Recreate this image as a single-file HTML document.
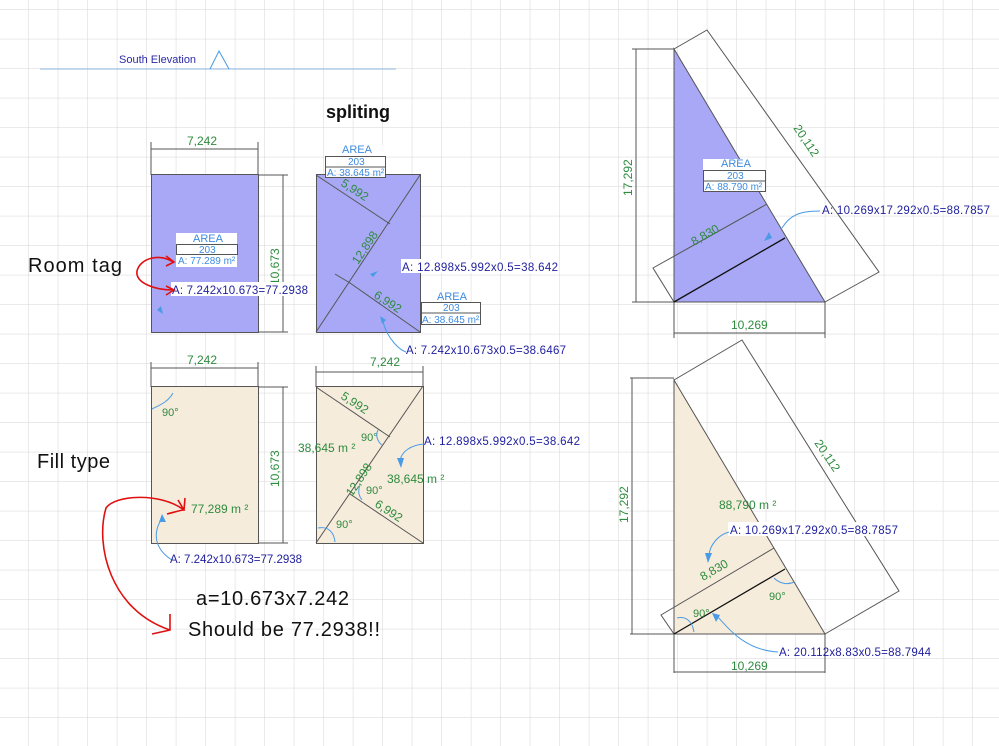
<!DOCTYPE html>
<html><head><meta charset="utf-8"><style>
html,body{margin:0;padding:0;background:#fff;}
svg{display:block;}
text{font-family:"Liberation Sans",sans-serif;}
.g{fill:#2e8b3e;font-size:12px;}
.n{fill:#1e1e9e;font-size:11.5px;}
.t{fill:#3d8be0;font-size:10px;}
.d{stroke:#555;stroke-width:1;fill:none;}
.a{stroke:#4a9be6;stroke-width:1;fill:none;}
.r{stroke:#e01010;stroke-width:1.6;fill:none;}
.k{fill:#111;font-size:20px;}
</style></head><body>
<svg width="999" height="746" viewBox="0 0 999 746" xmlns="http://www.w3.org/2000/svg">
<defs>
<pattern id="grid" x="-1.2" y="9.3" width="29.5" height="29.5" patternUnits="userSpaceOnUse">
<path d="M0 0 H29.5 M0 0 V29.5" stroke="#d6d6d6" stroke-width="1" fill="none"/>
</pattern>
</defs>
<rect width="999" height="746" fill="#fff"/>
<rect width="999" height="746" fill="url(#grid)"/>

<!-- South Elevation -->
<line x1="40" y1="69" x2="396" y2="69" stroke="#8fb8e0" stroke-width="1"/>
<text x="119" y="63" style="fill:#2a2aa8;font-size:11px">South Elevation</text>
<polyline points="210,69 219,51 229,69" class="a" stroke="#5a8ad0"/>

<text x="326" y="118" style="fill:#111;font-size:18px;font-weight:bold">spliting</text>
<text x="28" y="272" class="k" textLength="94">Room tag</text>
<text x="37" y="468" class="k" textLength="73">Fill type</text>
<text x="196" y="605" class="k" textLength="153">a=10.673x7.242</text>
<text x="188" y="636" class="k" textLength="192">Should be 77.2938!!</text>

<!-- Rect 1 -->
<rect x="151.5" y="174.5" width="107" height="158" fill="#a8a8f6" stroke="#555"/>
<path class="d" d="M151 149H258M151 142V175M258 142V175M258 175H288M258 332H288M283 175V332"/>
<text class="g" x="187" y="145">7,242</text>
<text class="g" transform="translate(279,285) rotate(-90)">10,673</text>
<rect x="176" y="233" width="61" height="34" fill="#fff"/>
<rect x="176.5" y="244.5" width="61" height="10" fill="none" stroke="#555"/>
<text class="t" x="193" y="242" style="font-size:11px">AREA</text>
<text class="t" x="199" y="253">203</text>
<text class="t" x="178" y="264">A: 77.289 m²</text>
<rect x="171" y="282" width="138" height="14" fill="#fff"/>
<text class="n" x="172" y="294" textLength="136">A: 7.242x10.673=77.2938</text>
<path d="M157 310 l6 4 l-2 -8z" fill="#4a9be6"/>
<path class="r" d="M173 262 C160 253 140 258 137 271 C135 283 155 290 173 290 M166 256 l8 6 l-8 4 M166 286 l8 4 l-8 5"/>

<!-- Rect 2 -->
<rect x="316.5" y="174.5" width="104" height="158" fill="#a8a8f6" stroke="#555"/>
<path class="d" d="M316 332 L420 175 M316 175 L390 224 M350 283 L420 332 M335 274 L350 283"/>
<text class="g" transform="translate(340,185) rotate(33)">5,992</text>
<text class="g" transform="translate(373,297) rotate(33)">6,992</text>
<text class="g" transform="translate(358,265) rotate(-56)">12,898</text>
<rect x="325" y="145" width="60" height="33" fill="#fff" opacity="0.9"/>
<rect x="325.5" y="156.5" width="60" height="21" fill="none" stroke="#555"/>
<line x1="325" y1="167" x2="385" y2="167" stroke="#555"/>
<text class="t" x="342" y="153" style="font-size:11px">AREA</text>
<text class="t" x="348" y="165">203</text>
<text class="t" x="327" y="176">A: 38.645 m²</text>
<rect x="401" y="259" width="158" height="14" fill="#fff"/>
<text class="n" x="402" y="271" textLength="156">A: 12.898x5.992x0.5=38.642</text>
<rect x="421.5" y="302.5" width="59" height="22" fill="#fff" stroke="#555"/>
<line x1="421" y1="313" x2="480" y2="313" stroke="#555"/>
<text class="t" x="437" y="300" style="font-size:11px">AREA</text>
<text class="t" x="443" y="311">203</text>
<text class="t" x="422" y="323">A: 38.645 m²</text>
<path d="M370 274 l8 -3 l-5 6z M380 316 l2 8 l4 -4z" fill="#4a9be6"/>
<path class="a" d="M383 322 C388 340 400 350 406 352"/>
<text class="n" x="406" y="354" textLength="160">A: 7.242x10.673x0.5=38.6467</text>

<!-- Rect 3 -->
<rect x="151.5" y="386.5" width="107" height="157" fill="#f6ecdc" stroke="#555"/>
<path class="d" d="M151 368H258M151 362V387M258 362V387M258 387H288M258 543H288M283 387V543"/>
<text class="g" x="187" y="364">7,242</text>
<text class="g" transform="translate(279,487) rotate(-90)">10,673</text>
<text class="g" x="162" y="416" style="font-size:11px">90°</text>
<path class="a" d="M152 409 C160 405 168 402 173 393"/>
<text class="g" x="191" y="513">77,289 m ²</text>
<path class="a" d="M161 520 C152 535 156 550 172 560"/>
<path d="M159 522 l3 -8 l4 8z" fill="#4a9be6"/>
<text class="n" x="170" y="563">A: 7.242x10.673=77.2938</text>
<path class="r" d="M185 498 L184 510 M167 514 C175 512 181 510 184 510 L178 500 M184 510 C160 492 115 495 106 508 C95 545 110 610 170 630 M152 634 L170 630 L170 614"/>

<!-- Rect 4 -->
<rect x="316.5" y="386.5" width="107" height="157" fill="#f6ecdc" stroke="#555"/>
<path class="d" d="M316 372H423M316 366V387M423 366V387 M316 543 L423 386 M316 387 L390 437 M350 494 L423 543"/>
<text class="g" transform="translate(340,398) rotate(33)">5,992</text>
<text class="g" transform="translate(374,506) rotate(33)">6,992</text>
<text class="g" transform="translate(352,497) rotate(-56)">12,898</text>
<text class="g" x="370" y="366">7,242</text>
<text class="g" x="298" y="452">38,645 m ²</text>
<text class="g" x="387" y="483">38,645 m ²</text>
<text class="g" x="361" y="441" style="font-size:11px">90°</text>
<text class="g" x="366" y="494" style="font-size:11px">90°</text>
<text class="g" x="336" y="528" style="font-size:11px">90°</text>
<path class="a" d="M318 528 C328 526 334 532 335 542 M360 485 C358 490 358 495 362 500 M378 430 C375 436 378 442 382 445"/>
<path class="a" d="M424 444 C410 445 402 452 400 460"/>
<path d="M397 458 l4 10 l3 -10z" fill="#4a9be6"/>
<text class="n" x="424" y="445" textLength="156">A: 12.898x5.992x0.5=38.642</text>

<!-- Right top triangle -->
<polygon points="674,49 674,302 825,302" fill="#a8a8f6" stroke="#555"/>
<path class="d" d="M632 49H674M632 302H674M636 49V302 M674 49 L707 30 L879 272 L825 302 M674 302V338 M825 302V338 M674 333H825 M674 302 L653 268 L767 204"/>
<line x1="674" y1="302" x2="785" y2="238" stroke="#111" stroke-width="1.3"/>
<text class="g" transform="translate(632,196) rotate(-90)">17,292</text>
<text class="g" transform="translate(793,128) rotate(56)">20,112</text>
<text class="g" x="731" y="329">10,269</text>
<text class="g" transform="translate(694,246) rotate(-30)">8,830</text>
<rect x="703" y="159" width="62" height="33" fill="#fff"/>
<rect x="703.5" y="170.5" width="62" height="21" fill="none" stroke="#555"/>
<line x1="703" y1="181" x2="765" y2="181" stroke="#555"/>
<text class="t" x="721" y="167" style="font-size:11px">AREA</text>
<text class="t" x="727" y="179">203</text>
<text class="t" x="705" y="190">A: 88.790 m²</text>
<path class="a" d="M782 228 C790 215 800 211 820 211"/>
<path d="M764 241 l8 -3 l-3 -6z" fill="#4a9be6"/>
<text class="n" x="822" y="214" textLength="168">A: 10.269x17.292x0.5=88.7857</text>

<!-- Right bottom triangle -->
<polygon points="674,380 674,634 825,634" fill="#f6ecdc" stroke="#555"/>
<path class="d" d="M630 378H674M630 634H674M632 378V634 M674 380 L742 340 L899 591 L825 634 M674 634V673 M825 634V673 M674 672H825 M674 634 L661 615 L774 548"/>
<line x1="674" y1="634" x2="785" y2="569" stroke="#111" stroke-width="1.3"/>
<text class="g" transform="translate(628,523) rotate(-90)">17,292</text>
<text class="g" transform="translate(814,443) rotate(56)">20,112</text>
<text class="g" x="731" y="670">10,269</text>
<text class="g" transform="translate(703,581) rotate(-30)">8,830</text>
<text class="g" x="719" y="509">88,790 m ²</text>
<rect x="728" y="522" width="172" height="14" fill="#fff"/>
<text class="n" x="730" y="534" textLength="168">A: 10.269x17.292x0.5=88.7857</text>
<path class="a" d="M729 532 C718 535 710 545 709 555"/>
<path d="M705 553 l3 10 l4 -10z" fill="#4a9be6"/>
<text class="g" x="769" y="600" style="font-size:11px">90°</text>
<text class="g" x="693" y="617" style="font-size:11px">90°</text>
<path class="a" d="M774 578 C780 584 788 585 794 582 M677 618 C685 616 692 620 694 632"/>
<path class="a" d="M716 615 C730 630 745 650 778 652"/>
<path d="M712 613 l8 2 l-4 7z" fill="#4a9be6"/>
<text class="n" x="779" y="656" textLength="152">A: 20.112x8.83x0.5=88.7944</text>
</svg>
</body></html>
